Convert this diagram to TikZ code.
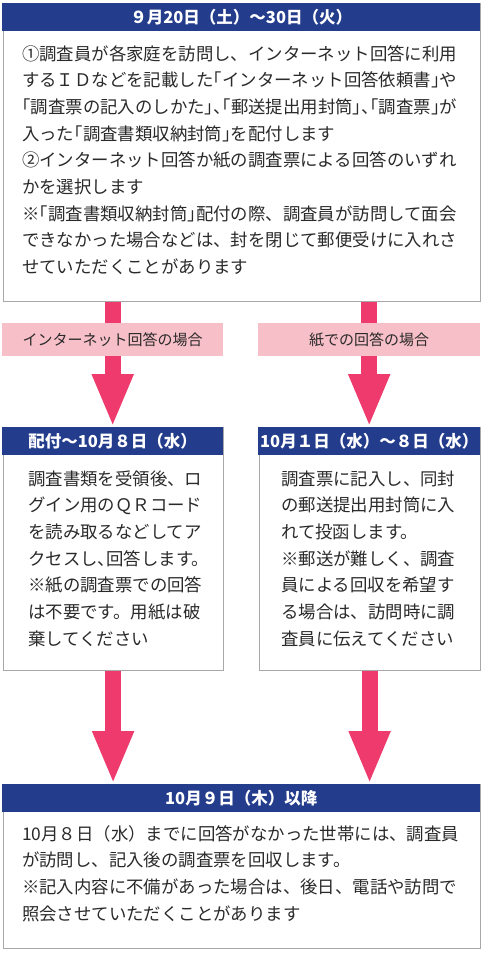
\documentclass[tikz,border=0pt]{standalone}
\usepackage{fontspec}
\usetikzlibrary{arrows.meta}
\newfontfamily\jp{Noto Sans CJK JP}
\newfontfamily\jph[RawFeature=+halt]{Noto Sans CJK JP}
\newcommand\hw[1]{{\jph #1}}
\definecolor{hdrblue}{HTML}{243C8C}
\definecolor{arrpink}{HTML}{EE3A6C}
\definecolor{lblpink}{HTML}{F7BFC8}
\definecolor{boxgray}{HTML}{A8A8A8}
\definecolor{ink}{HTML}{2A2A2A}
\begin{document}
\begin{tikzpicture}[x=1pt,y=-1pt,
 hdr/.style={fill=hdrblue, text=white, font=\jp\bfseries\fontsize{16.5}{20}\selectfont, inner sep=0pt, minimum height=28pt, anchor=north west},
 bodybox/.style={draw=boxgray, line width=1.2pt, fill=white, inner sep=0pt, anchor=north west},
 lbl/.style={fill=lblpink, text=ink, font=\jp\fontsize{15}{18}\selectfont, inner sep=0pt, minimum height=33pt, anchor=north west},
 ln/.style={anchor=base west, inner sep=0pt, text=ink, font=\jp\fontsize{17.4}{20}\selectfont},
 bigarrow/.style={draw=arrpink, line width=16pt, -{Triangle[width=38pt,length=53pt]}},
 stem/.style={draw=arrpink, line width=16pt}]
\useasboundingbox[fill=white] (0,0) rectangle (487,953);

% label boxes (positions needed for arrows)
\node[lbl, minimum width=221pt] (lblL) at (2,323) {インターネット回答の場合};
\node[lbl, minimum width=222pt] (lblR) at (258,323) {紙での回答の場合};

% top box
\node[bodybox, minimum width=477pt, minimum height=298pt] (topB) at (2.5,3) {};
\node[hdr, minimum width=478pt] (topH) at (2,3) {９月20日（土）～30日（火）};
\node[ln] (t1) at (22,60) {①調査員が各家庭を訪問し、インターネット回答に利用};
\node[ln] (t2) at (22,86.7) {するＩＤなどを記載した\hw{「}インターネット回答依頼書\hw{」}や};
\node[ln] (t3) at (22,113.4) {\hw{「}調査票の記入のしかた\hw{」、「}郵送提出用封筒\hw{」、「}調査票\hw{」}が};
\node[ln] (t4) at (22,140.1) {入った\hw{「}調査書類収納封筒\hw{」}を配付します};
\node[ln] (t5) at (22,166.8) {②インターネット回答か紙の調査票による回答のいずれ};
\node[ln] (t6) at (22,193.5) {かを選択します};
\node[ln] (t7) at (22,220.2) {※\hw{「}調査書類収納封筒\hw{」}配付の際、調査員が訪問して面会};
\node[ln] (t8) at (22,246.9) {できなかった場合などは、封を閉じて郵便受けに入れさ};
\node[ln] (t9) at (22,273.6) {せていただくことがあります};

% middle boxes
\node[bodybox, minimum width=220pt, minimum height=243pt] (midLB) at (2.5,427) {};
\node[hdr, minimum width=221pt] (midLH) at (2,427) {配付～10月８日（水）};
\node[bodybox, minimum width=221pt, minimum height=243pt] (midRB) at (258.5,427) {};
\node[hdr, minimum width=222pt] (midRH) at (258,427) {10月１日（水）～８日（水）};

\node[ln] (l1) at (28,485) {調査書類を受領後、ロ};
\node[ln] (l2) at (28,511.7) {グイン用のＱＲコード};
\node[ln] (l3) at (28,538.4) {を読み取るなどしてア};
\node[ln] (l4) at (28,565.1) {クセスし\hw{、}回答します。};
\node[ln] (l5) at (28,591.8) {※紙の調査票での回答};
\node[ln] (l6) at (28,618.5) {は不要です。用紙は破};
\node[ln] (l7) at (28,645.2) {棄してください};

\node[ln] (r1) at (281,485) {調査票に記入し、同封};
\node[ln] (r2) at (281,511.7) {の郵送提出用封筒に入};
\node[ln] (r3) at (281,538.4) {れて投函します。};
\node[ln] (r4) at (281,565.1) {※郵送が難しく、調査};
\node[ln] (r5) at (281,591.8) {員による回収を希望す};
\node[ln] (r6) at (281,618.5) {る場合は、訪問時に調};
\node[ln] (r7) at (281,645.2) {査員に伝えてください};

% bottom box
\node[bodybox, minimum width=477pt, minimum height=164pt] (botB) at (2.5,784) {};
\node[hdr, minimum width=478pt] (botH) at (2,784) {10月９日（木）以降};
\node[ln] (b1) at (22,840) {10月８日（水）までに回答がなかった世帯には、調査員};
\node[ln] (b2) at (22,866.7) {が訪問し、記入後の調査票を回収します。};
\node[ln] (b3) at (22,893.4) {※記入内容に不備があった場合は、後日、電話や訪問で};
\node[ln] (b4) at (22,920.1) {照会させていただくことがあります};

% arrows
\draw[stem] (lblL.north |- topB.south) -- (lblL.north);
\draw[stem] (lblR.north |- topB.south) -- (lblR.north);
\draw[bigarrow] (lblL.south) -- (midLH.north);
\draw[bigarrow] (lblR.south) -- (midRH.north);
\draw[bigarrow] (midLB.south) -- (midLB.south |- botH.north);
\draw[bigarrow] (midRB.south) -- (midRB.south |- botH.north);
\end{tikzpicture}
\end{document}
